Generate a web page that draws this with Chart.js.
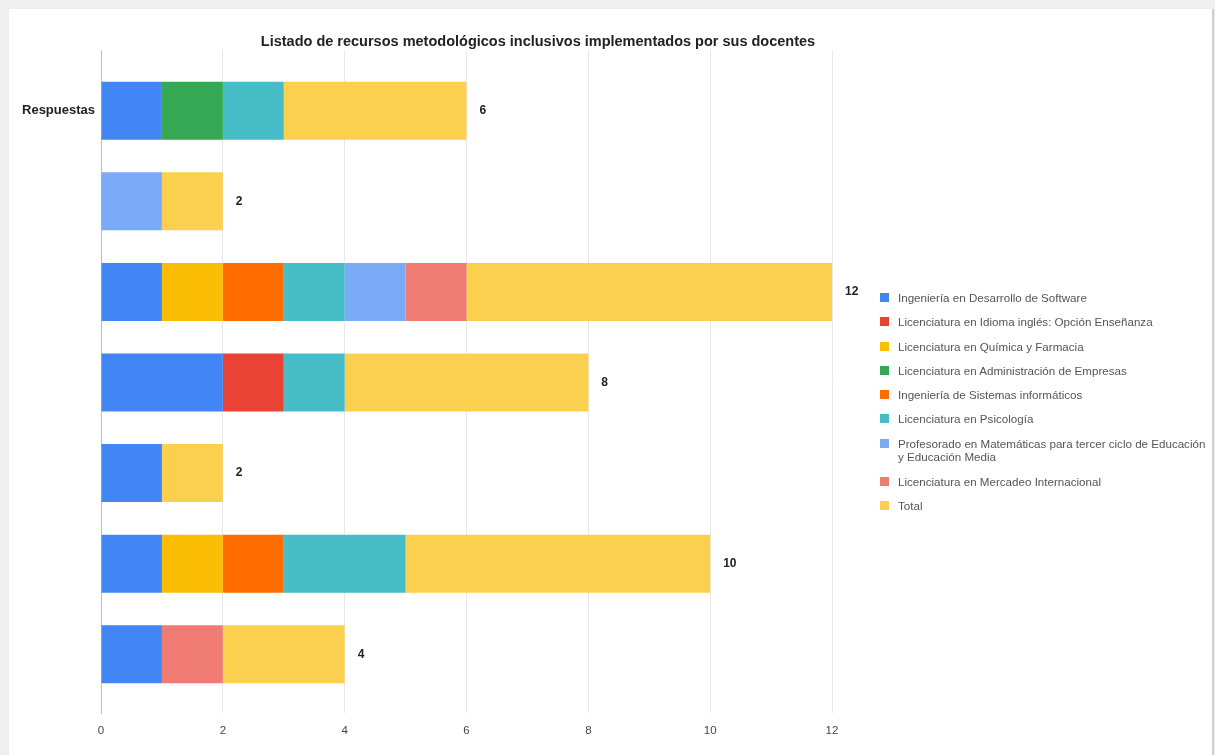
<!DOCTYPE html>
<html>
<head>
<meta charset="utf-8">
<script src="https://cdn.jsdelivr.net/npm/chart.js@4.4.1/dist/chart.umd.min.js"></script>
<style>
  html, body { margin: 0; padding: 0; }
  body { width: 1215px; height: 755px; background: #efefef; position: relative; overflow: hidden; font-family: "Liberation Sans", Arial, sans-serif; }
  #card { position: absolute; left: 9px; top: 9px; width: 1203px; height: 746px; background: #fff; border-right: 2px solid #cfcfcf; }
  #wrap { position: absolute; left: 0; top: 0; width: 1215px; height: 755px; }
  #title { position: absolute; left: 0; width: 1076px; top: 33px; text-align: center; font: bold 14.5px "Liberation Sans", Arial, sans-serif; color: #222; white-space: nowrap; }
  #legend { position: absolute; left: 880px; top: 291px; font: 11.6px "Liberation Sans", Arial, sans-serif; color: #555; }
  .li { position: relative; padding-left: 18px; line-height: 13.5px; margin-bottom: 10.8px; white-space: nowrap; }
  .li .sw { position: absolute; left: 0; top: 2px; width: 9px; height: 9px; }
</style>
</head>
<body>
<div id="card"></div>
<div id="wrap"><canvas id="c" width="1215" height="755"></canvas></div>
<div id="title">Listado de recursos metodológicos inclusivos implementados por sus docentes</div>
<div id="legend"></div>
<script>
const categories = ['Respuestas', '', '', '', '', '', ''];
const xTicks = [0, 2, 4, 6, 8, 10, 12];

const seriesNames = [
  'Ingeniería en Desarrollo de Software',
  'Licenciatura en Idioma inglés: Opción Enseñanza',
  'Licenciatura en Química y Farmacia',
  'Licenciatura en Administración de Empresas',
  'Ingeniería de Sistemas informáticos',
  'Licenciatura en Psicología',
  'Profesorado en Matemáticas para tercer ciclo de Educación y Educación Media',
  'Licenciatura en Mercadeo Internacional',
  'Total'
];
const legendLines = [
  ['Ingeniería en Desarrollo de Software'],
  ['Licenciatura en Idioma inglés: Opción Enseñanza'],
  ['Licenciatura en Química y Farmacia'],
  ['Licenciatura en Administración de Empresas'],
  ['Ingeniería de Sistemas informáticos'],
  ['Licenciatura en Psicología'],
  ['Profesorado en Matemáticas para tercer ciclo de Educación', 'y Educación Media'],
  ['Licenciatura en Mercadeo Internacional'],
  ['Total']
];
const seriesColors = ['#4285F4', '#EA4335', '#FBBC04', '#34A853', '#FF6D01', '#46BDC6', '#7BAAF7', '#F07B72', '#FCD04F'];

const software    = [1, 0, 1, 2, 1, 1, 1];
const ingles      = [0, 0, 0, 1, 0, 0, 0];
const quimica     = [0, 0, 1, 0, 0, 1, 0];
const admin       = [1, 0, 0, 0, 0, 0, 0];
const sistemas    = [0, 0, 1, 0, 0, 1, 0];
const psicologia  = [1, 0, 1, 1, 0, 2, 0];
const profesorado = [0, 1, 1, 0, 0, 0, 0];
const mercadeo    = [0, 0, 1, 0, 0, 0, 1];
const total       = [3, 1, 6, 4, 1, 5, 2];

const seriesValues = [software, ingles, quimica, admin, sistemas, psicologia, profesorado, mercadeo, total];

const datasets = seriesValues.map((vals, si) => ({
  label: seriesNames[si],
  data: vals.map((v, i) => ({ x: v, y: i })),
  backgroundColor: seriesColors[si],
  borderWidth: 0,
  categoryPercentage: 1,
  barPercentage: 0.64
}));

const totalLabels = {
  id: 'totalLabels',
  afterDatasetsDraw(chart) {
    const ctx = chart.ctx;
    const xs = chart.scales.x, ys = chart.scales.y;
    ctx.save();
    ctx.font = 'bold 12px "Liberation Sans", Arial, sans-serif';
    ctx.fillStyle = '#222';
    ctx.textAlign = 'left';
    ctx.textBaseline = 'middle';
    categories.forEach((c, i) => {
      const sum = seriesValues.reduce((a, s) => a + s[i], 0);
      ctx.fillText(String(sum), xs.getPixelForValue(sum) + 13, ys.getPixelForValue(i));
    });
    ctx.restore();
  }
};

new Chart(document.getElementById('c'), {
  type: 'bar',
  data: { datasets },
  options: {
    indexAxis: 'y',
    responsive: false,
    animation: false,
    layout: { padding: { left: 0, right: 383, top: 50, bottom: 6 } },
    plugins: { legend: { display: false }, title: { display: false }, tooltip: { enabled: false } },
    scales: {
      x: {
        type: 'linear',
        stacked: true,
        min: 0, max: 12,
        afterBuildTicks: s => { s.ticks = xTicks.map(v => ({ value: v })); },
        ticks: { font: { size: 11.5, family: '"Liberation Sans", Arial, sans-serif' }, color: '#444', padding: 11 },
        grid: { color: '#e8e8e8', drawTicks: false },
        border: { display: false }
      },
      y: {
        type: 'linear',
        stacked: true,
        reverse: true,
        offset: false,
        min: -0.67, max: 6.65,
        afterBuildTicks: s => { s.ticks = categories.map((c, i) => ({ value: i })); },
        afterFit: s => { s.width = 101; },
        ticks: {
          callback: v => categories[v] ?? '',
          font: { size: 13, weight: 'bold', family: '"Liberation Sans", Arial, sans-serif' },
          color: '#222', padding: 6
        },
        grid: { display: false, drawTicks: false },
        border: { display: true, color: '#bdbdbd', width: 1 }
      }
    }
  },
  plugins: [totalLabels]
});

const lg = document.getElementById('legend');
legendLines.forEach((lines, i) => {
  const d = document.createElement('div');
  d.className = 'li';
  const sw = document.createElement('span');
  sw.className = 'sw';
  sw.style.background = seriesColors[i];
  d.appendChild(sw);
  lines.forEach((t, k) => {
    if (k) d.appendChild(document.createElement('br'));
    d.appendChild(document.createTextNode(t));
  });
  lg.appendChild(d);
});
</script>
</body>
</html>
